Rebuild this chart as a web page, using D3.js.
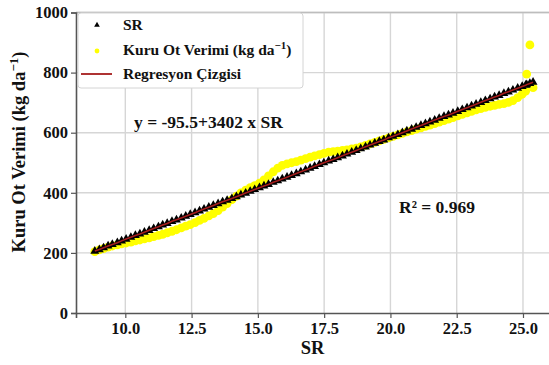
<!DOCTYPE html>
<html>
<head>
<meta charset="utf-8">
<script src="https://cdn.jsdelivr.net/npm/d3@7"></script>
<style>
  html, body { margin: 0; padding: 0; background: #fff; overflow: hidden; }
  svg { display: block; font-family: "Liberation Serif", "Times New Roman", serif; font-weight: bold; }
</style>
</head>
<body>
<svg id="chart" width="549" height="365"></svg>
<script>
// SR values (x) shared by every series
const srValues = [
  8.85, 9.02, 9.18, 9.35, 9.51, 9.70, 9.86, 10.03, 10.21, 10.38, 10.55, 10.72, 10.90,
  11.07, 11.25, 11.41, 11.58, 11.76, 11.93, 12.11, 12.28, 12.45, 12.63, 12.80, 12.97,
  13.15, 13.32, 13.50, 13.67, 13.84, 14.02, 14.19, 14.36, 14.54, 14.71, 14.88, 15.06,
  15.23, 15.40, 15.58, 15.75, 15.92, 16.10, 16.27, 16.45, 16.62, 16.80, 16.97, 17.14,
  17.32, 17.49, 17.67, 17.84, 18.01, 18.19, 18.36, 18.54, 18.71, 18.88, 19.06, 19.23,
  19.41, 19.58, 19.75, 19.93, 20.10, 20.28, 20.45, 20.62, 20.80, 20.97, 21.15, 21.32,
  21.49, 21.67, 21.84, 22.02, 22.19, 22.36, 22.54, 22.71, 22.89, 23.06, 23.23, 23.41,
  23.58, 23.76, 23.93, 24.10, 24.28, 24.45, 24.62, 24.80, 24.97, 25.10, 25.14, 25.26, 25.38
]
// Kuru Ot Verimi (yellow)
const yieldValues = [
  204, 210, 214, 219, 223, 227, 230, 233, 236, 240, 243, 247, 250,
  254, 258, 262, 267, 272, 277, 283, 289, 294, 301, 308, 315,
  323, 331, 341, 352, 364, 377, 389, 400, 409, 417, 424, 432,
  443, 456, 470, 482, 491, 496, 500, 504, 509, 514, 519, 523,
  527, 531, 535, 537, 539, 541, 543, 546, 549, 553, 558, 563,
  568, 573, 578, 583, 588, 593, 598, 603, 607, 612, 616, 621,
  625, 630, 635, 640, 645, 650, 656, 661, 666, 671, 676, 680,
  684, 688, 691, 694, 697, 701, 707, 717, 728, 738, 795, 892, 750
]
// regression fitted values (black triangles / red line)
const fittedValues = [
  206, 211, 217, 223, 228, 234, 240, 246, 252, 258, 263, 269, 275,
  281, 287, 293, 298, 305, 310, 316, 322, 328, 334, 340, 346,
  352, 358, 364, 370, 375, 381, 387, 393, 399, 405, 411, 417,
  423, 428, 435, 440, 446, 452, 458, 464, 470, 476, 482, 488,
  494, 500, 506, 511, 517, 523, 529, 535, 541, 547, 553, 559,
  565, 571, 576, 583, 588, 594, 600, 606, 612, 618, 624, 630,
  636, 642, 648, 654, 659, 665, 671, 677, 683, 689, 695, 701,
  707, 713, 719, 724, 731, 736, 742, 748, 754, 758, 760, 764, 768
]
const xTicks = [10.0, 12.5, 15.0, 17.5, 20.0, 22.5, 25.0]
const yTicks = [0, 200, 400, 600, 800, 1000]
const legendLabels = ["SR", "Kuru Ot Verimi (kg da", "Regresyon Çizgisi"]

const plot = { left: 76, right: 549.5, top: 12.5, bottom: 313 }
const svg = d3.select("#chart")

const x = d3.scaleLinear().domain([8.14, 26.0]).range([plot.left, plot.right])
const y = d3.scaleLinear().domain([0, 1000]).range([plot.bottom, plot.top])

// grid
svg.append("g").selectAll("line").data(xTicks).join("line")
  .attr("x1", d => x(d)).attr("x2", d => x(d))
  .attr("y1", plot.top).attr("y2", plot.bottom)
  .attr("stroke", "#d6d6d6").attr("stroke-width", 1.4)
svg.append("g").selectAll("line").data(yTicks.slice(1)).join("line")
  .attr("x1", plot.left).attr("x2", plot.right)
  .attr("y1", d => y(d)).attr("y2", d => y(d))
  .attr("stroke", "#d6d6d6").attr("stroke-width", 1.4)
svg.append("line")
  .attr("x1", plot.left).attr("x2", plot.right)
  .attr("y1", plot.top).attr("y2", plot.top)
  .attr("stroke", "#bdbdbd").attr("stroke-width", 1.4)

// axes
const xAxis = svg.append("g")
  .attr("transform", `translate(0,${plot.bottom})`)
  .call(d3.axisBottom(x).tickValues(xTicks).tickFormat(d3.format(".1f")).tickSize(5).tickPadding(4))
const yAxis = svg.append("g")
  .attr("transform", `translate(${plot.left},0)`)
  .call(d3.axisLeft(y).tickValues(yTicks).tickFormat(d3.format("d")).tickSize(5).tickPadding(3))
for (let ax of [xAxis, yAxis]) {
  ax.select(".domain").attr("stroke", "#555").attr("stroke-width", 1.6)
  ax.selectAll(".tick line").attr("stroke", "#555").attr("stroke-width", 1.2)
  ax.selectAll("text").attr("fill", "#111").attr("font-size", 16.5)
    .attr("font-family", "Liberation Serif").attr("font-weight", "bold")
}

const points = srValues.map((s, i) => ({ sr: s, obs: yieldValues[i], fit: fittedValues[i] }))

// yellow observed
svg.append("g").selectAll("circle").data(points).join("circle")
  .attr("cx", d => x(d.sr)).attr("cy", d => y(d.obs)).attr("r", 4.4)
  .attr("fill", "#ffff00")

// black triangles
const tri = d3.symbol().type(d3.symbolTriangle).size(34)
svg.append("g").selectAll("path").data(points).join("path")
  .attr("transform", d => `translate(${x(d.sr)},${y(d.fit)})`)
  .attr("d", tri).attr("fill", "#000")

// regression line
svg.append("path").datum(points)
  .attr("fill", "none").attr("stroke", "#a51c1c").attr("stroke-width", 1.6)
  .attr("d", d3.line().x(d => x(d.sr)).y(d => y(d.fit)))

// annotations
svg.append("text").attr("x", 134).attr("y", 128).attr("font-size", 17.5).attr("fill", "#111")
  .text("y = -95.5+3402 x SR")
svg.append("text").attr("x", 399).attr("y", 213).attr("font-size", 17.5).attr("fill", "#111")
  .text("R² = 0.969")

// legend
const lg = svg.append("g")
lg.append("rect").attr("x", 78).attr("y", 13).attr("width", 225).attr("height", 75)
  .attr("rx", 3).attr("fill", "#fff").attr("stroke", "#d4d4d4").attr("stroke-width", 1)
lg.append("path").attr("transform", "translate(97,25)")
  .attr("d", d3.symbol().type(d3.symbolTriangle).size(14)).attr("fill", "#000")
lg.append("circle").attr("cx", 97).attr("cy", 51).attr("r", 2.4).attr("fill", "#ffff00")
lg.append("line").attr("x1", 81).attr("x2", 112).attr("y1", 74).attr("y2", 74)
  .attr("stroke", "#a51c1c").attr("stroke-width", 1.8)
const rows = [30, 55, 79]
legendLabels.forEach((t, i) => {
  const txt = lg.append("text").attr("x", 123).attr("y", rows[i]).attr("font-size", 15.5).attr("fill", "#111")
  txt.append("tspan").text(t)
  if (i === 1) {
    txt.append("tspan").attr("dy", -6).attr("font-size", 11).text("−1")
    txt.append("tspan").attr("dy", 6).text(")")
  }
})

// axis labels
svg.append("text").attr("x", 312.5).attr("y", 354).attr("text-anchor", "middle")
  .attr("font-size", 18.5).attr("fill", "#111").text("SR")
const yl = svg.append("text").attr("transform", "translate(25,152) rotate(-90)")
  .attr("text-anchor", "middle").attr("font-size", 18.5).attr("fill", "#111")
yl.append("tspan").text("Kuru Ot Verimi (kg da")
yl.append("tspan").attr("dy", -7).attr("font-size", 13).text("−1")
yl.append("tspan").attr("dy", 7).text(")")
</script>
</body>
</html>
